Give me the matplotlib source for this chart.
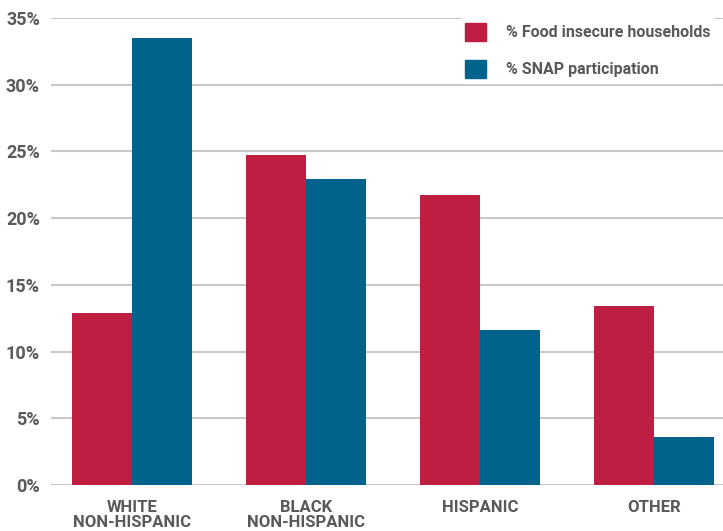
import matplotlib.pyplot as plt
import numpy as np
from matplotlib.patches import Patch

# Data
categories = ['WHITE\nNON-HISPANIC', 'BLACK\nNON-HISPANIC', 'HISPANIC', 'OTHER']
food_insecure = [12.9, 24.7, 21.7, 13.4]
snap_participation = [33.5, 22.9, 11.6, 3.6]
yticks = [0, 5, 10, 15, 20, 25, 30, 35]
ytick_labels = [f'{v}%' for v in yticks]

RED = '#BE1E41'
BLUE = '#00638C'
GRAY_TEXT = '#58595B'
GRID = '#C8C8C8'

FAMILY = ['Roboto', 'DejaVu Sans']
font = dict(family=FAMILY, fontweight='bold', color=GRAY_TEXT)

fig = plt.figure(figsize=(7.23, 5.31), dpi=100)
ax = fig.add_axes([51 / 723, 46 / 531, 1 - 51 / 723, 467 / 531])

x = np.arange(len(categories))
w = 0.345
ax.bar(x - w / 2, food_insecure, width=w, color=RED, zorder=3)
ax.bar(x + w / 2, snap_participation, width=w, color=BLUE, zorder=3)

ax.set_xlim(-0.466, 3.397)
ax.set_ylim(0, 35)
ax.set_yticks(yticks)
ax.set_yticklabels(ytick_labels, fontsize=13, **font)
ax.set_xticks(x)
ax.set_xticklabels(categories, fontsize=12, linespacing=0.95, va='top', **font)
ax.tick_params(length=0, axis='y', pad=8)
ax.tick_params(length=0, axis='x', pad=11)

for s in ax.spines.values():
    s.set_visible(False)
ax.grid(axis='y', color=GRID, linewidth=1.5, zorder=0)
ax.set_axisbelow(True)

handles = [Patch(color=RED, label='% Food insecure households'),
           Patch(color=BLUE, label='% SNAP participation')]
leg = ax.legend(handles=handles, loc='upper right', bbox_to_anchor=(0.995, 1.01),
                frameon=True, facecolor='white', edgecolor='white', framealpha=1,
                handlelength=1.35, handleheight=1.35, handletextpad=1.2,
                labelspacing=1.2, borderaxespad=0.3, borderpad=0.3,
                prop=dict(family=FAMILY, weight='bold', size=11.5))
for t in leg.get_texts():
    t.set_color(GRAY_TEXT)

fig.savefig('out.png', dpi=100)
